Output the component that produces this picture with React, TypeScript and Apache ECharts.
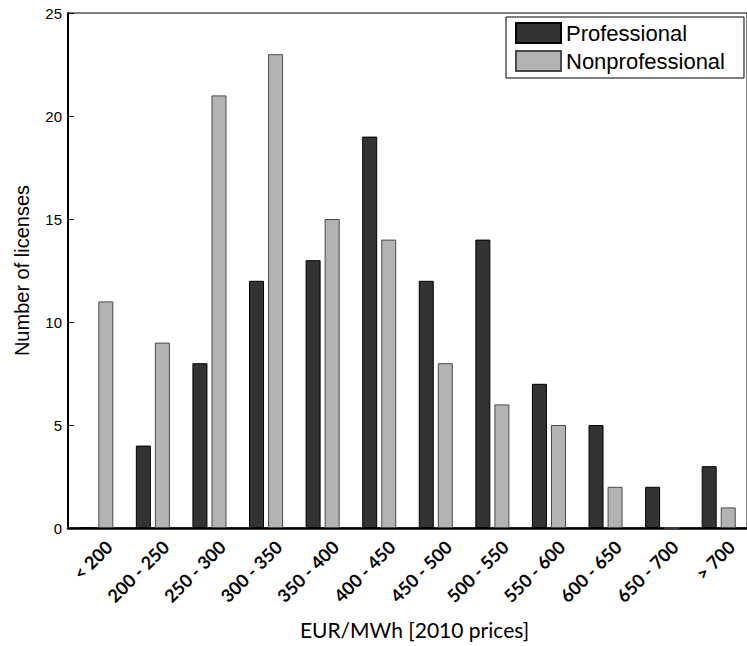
import React, { useEffect, useRef } from "react";
import * as echarts from "echarts";

const categories = ["< 200", "200 - 250", "250 - 300", "300 - 350", "350 - 400", "400 - 450", "450 - 500", "500 - 550", "550 - 600", "600 - 650", "650 - 700", "> 700"];
const professional = [0, 4, 8, 12, 13, 19, 12, 14, 7, 5, 2, 3];
const nonprofessional = [11, 9, 21, 23, 15, 14, 8, 6, 5, 2, 0, 1];
const yTicks = [0, 5, 10, 15, 20, 25];

export default function App() {
  const ref = useRef<HTMLDivElement>(null);
  useEffect(() => {
    if (!ref.current) return;
    const chart = echarts.init(ref.current, null, { renderer: "svg" });
    chart.setOption({
      animation: false,
      backgroundColor: "#ffffff",
      grid: {
        left: 68,
        right: -5,
        top: 13,
        bottom: 118,
        show: true,
        borderColor: "#000",
        borderWidth: 1,
        backgroundColor: "transparent",
      },
      legend: {
        left: 506,
        top: 17,
        orient: "vertical",
        icon: "rect",
        itemWidth: 45,
        itemHeight: 20,
        itemGap: 6,
        padding: [5, 19, 6, 9],
        borderColor: "#000",
        borderWidth: 1,
        backgroundColor: "#fff",
        textStyle: { fontFamily: "Liberation Sans", fontSize: 22, color: "#000", lineHeight: 20 },
        data: ["Professional", "Nonprofessional"],
      },
      xAxis: {
        type: "category",
        data: categories,
        name: "EUR/MWh [2010 prices]",
        nameLocation: "middle",
        nameGap: 90,
        nameTextStyle: { fontFamily: "Lato", fontSize: 21, color: "#000", padding: [0, 0, 0, 14] },
        axisLine: { show: true, lineStyle: { color: "#000", width: 2.5 } },
        axisTick: { show: false },
        axisLabel: {
          interval: 0,
          rotate: 45,
          margin: 3,
          verticalAlign: "top",
          lineHeight: 36,
          fontFamily: "Lato",
          fontWeight: "bold",
          fontSize: 18,
          color: "#000",
        },
      },
      yAxis: {
        type: "value",
        min: yTicks[0],
        max: yTicks[yTicks.length - 1],
        interval: 5,
        name: "Number of licenses",
        nameLocation: "middle",
        nameGap: 36,
        nameTextStyle: { fontFamily: "Liberation Sans", fontSize: 20, color: "#000" },
        axisLine: { show: true, lineStyle: { color: "#000", width: 2 } },
        axisTick: { show: true, inside: true, length: 6, lineStyle: { color: "#000" } },
        splitLine: { show: false },
        axisLabel: { fontFamily: "Liberation Sans", fontSize: 15, color: "#000", margin: 6 },
      },
      series: [
        {
          name: "Professional",
          type: "bar",
          data: professional,
          barWidth: 15,
          barGap: "27%",
          itemStyle: { color: "#333333", borderColor: "#000", borderWidth: 1 },
        },
        {
          name: "Nonprofessional",
          type: "bar",
          data: nonprofessional,
          barWidth: 15,
          barGap: "27%",
          itemStyle: { color: "#b3b3b3", borderColor: "#4a4a4a", borderWidth: 1 },
        },
      ],
    });
    return () => chart.dispose();
  }, []);
  return (
    <div
      ref={ref}
      style={{ position: "fixed", left: 0, top: 0, width: 747, height: 646 }}
    />
  );
}
